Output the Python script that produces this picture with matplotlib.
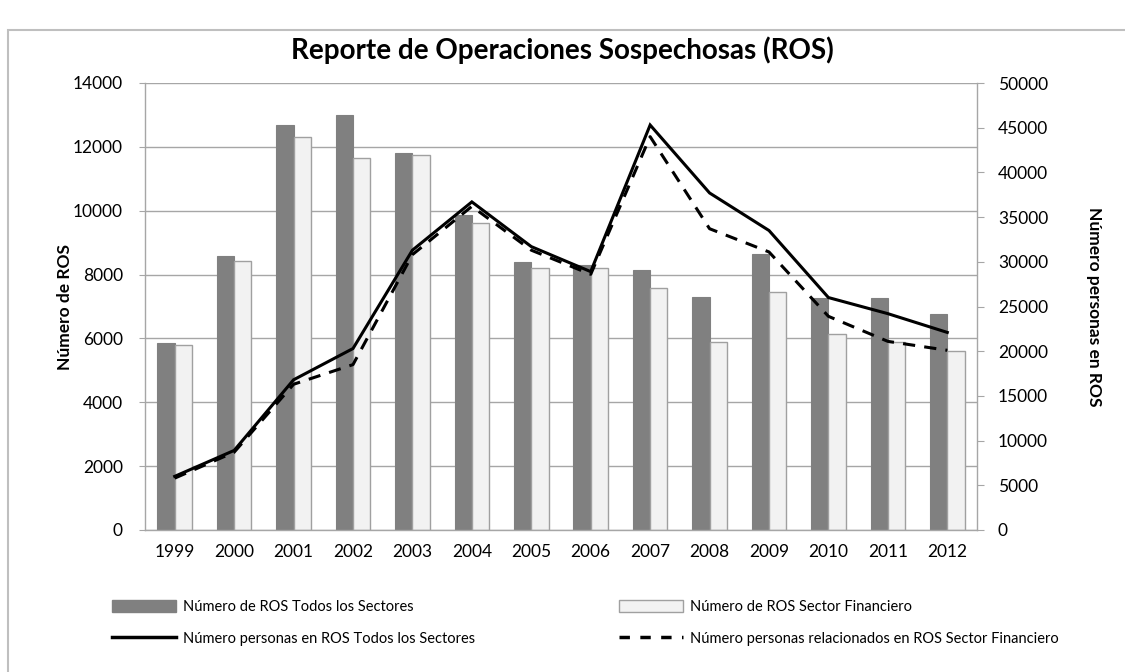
import matplotlib
matplotlib.use("Agg")
import matplotlib.pyplot as plt
from matplotlib.patches import Rectangle, Patch
from matplotlib.lines import Line2D
import numpy as np

years = ["1999", "2000", "2001", "2002", "2003", "2004", "2005", "2006",
         "2007", "2008", "2009", "2010", "2011", "2012"]
ros_todos = [5850, 8580, 12670, 13000, 11820, 9860, 8400, 8300,
             8130, 7310, 8640, 7280, 7270, 6770]
ros_financiero = [5800, 8420, 12320, 11660, 11730, 9600, 8200, 8200,
                  7570, 5900, 7440, 6150, 5900, 5610]
personas_todos = [6000, 8900, 16800, 20300, 31300, 36700, 31700, 28900,
                  45300, 37700, 33500, 26000, 24200, 22100]
personas_financiero = [5800, 8700, 16300, 18500, 30800, 36200, 31300, 28600,
                       44000, 33700, 31100, 23900, 21100, 20100]

label_bar1 = "Número de ROS Todos los Sectores"
label_bar2 = "Número de ROS Sector Financiero"
label_line1 = "Número personas en ROS Todos los Sectores"
label_line2 = "Número personas relacionados en ROS Sector Financiero"

plt.rcParams['font.family'] = ['Lato', 'DejaVu Sans']

W, H = 1125, 672
fig = plt.figure(figsize=(W / 100, H / 100), dpi=100)

# outer frame
fig.patches.append(Rectangle((8 / W, -0.05), 1.1, 1 - 30 / H + 0.05,
                             transform=fig.transFigure, fill=False,
                             edgecolor="#bfbfbf", linewidth=1.5))

ax = fig.add_axes([145 / W, 1 - 530 / H, (977 - 145) / W, (530 - 83) / H])
x = np.arange(len(years))
bw = 0.29
grid_c = "#a6a6a6"

ax.bar(x - bw / 2, ros_todos, width=bw, color="#808080", edgecolor="#808080",
       linewidth=0.8, zorder=2)
ax.bar(x + bw / 2, ros_financiero, width=bw, color="#f2f2f2", edgecolor="#a0a0a0",
       linewidth=1.0, zorder=2)

ax.set_xlim(-0.5, len(years) - 0.5)
ax.set_ylim(0, 14000)
ax.set_yticks(np.arange(0, 14001, 2000))
ax.set_xticks(x)
ax.set_xticklabels(years)
ax.yaxis.grid(True, color=grid_c, linewidth=1.0, zorder=0)
ax.set_axisbelow(True)
for s in ["top", "right"]:
    ax.spines[s].set_visible(False)
ax.spines["left"].set_color(grid_c)
ax.spines["bottom"].set_color(grid_c)
ax.spines["left"].set_linewidth(1.0)
ax.spines["bottom"].set_linewidth(1.0)
ax.tick_params(axis="y", direction="out", length=4, color=grid_c, labelsize=12.5, pad=12)
ax.tick_params(axis="x", length=0, labelsize=12.5, pad=10)
ax.set_ylabel("Número de ROS", fontsize=12.5, fontweight="bold", labelpad=0)

ax2 = ax.twinx()
ax2.plot(x, personas_todos, color="black", linewidth=2.2, zorder=4,
         solid_joinstyle="miter")
ax2.plot(x, personas_financiero, color="black", linewidth=2.2, zorder=3,
         linestyle=(0, (4, 3)))
ax2.set_ylim(0, 50000)
ax2.set_yticks(np.arange(0, 50001, 5000))
for s in ["top", "left", "bottom"]:
    ax2.spines[s].set_visible(False)
ax2.spines["right"].set_color(grid_c)
ax2.spines["right"].set_linewidth(1.0)
ax2.tick_params(axis="y", direction="out", length=5, color=grid_c, labelsize=12.5, pad=10)
ax2.set_ylabel("Número personas en ROS", fontsize=12.5, fontweight="bold",
               rotation=270, labelpad=39)

fig.suptitle("Reporte de Operaciones Sospechosas (ROS)", fontsize=20,
             fontweight="bold", y=1 - 50 / H, va="center")

h1 = Patch(facecolor="#808080", edgecolor="#808080")
h2 = Patch(facecolor="#f2f2f2", edgecolor="#a0a0a0")
h3 = Line2D([], [], color="black", linewidth=2.5)
h4 = Line2D([], [], color="black", linewidth=2.5, linestyle=(0, (3, 3)))

common = dict(frameon=False, fontsize=10.5, handlelength=4.4, handleheight=0.9,
              handletextpad=0.5, labelspacing=1.2, borderpad=0, borderaxespad=0)
leg1 = fig.legend([h1, h3], [label_bar1, label_line1], loc="upper left",
                  bbox_to_anchor=(112 / W, 1 - 600 / H), **common)
leg2 = fig.legend([h2, h4], [label_bar2, label_line2], loc="upper left",
                  bbox_to_anchor=(619 / W, 1 - 600 / H), **common)

fig.savefig("out.png", dpi=100)
